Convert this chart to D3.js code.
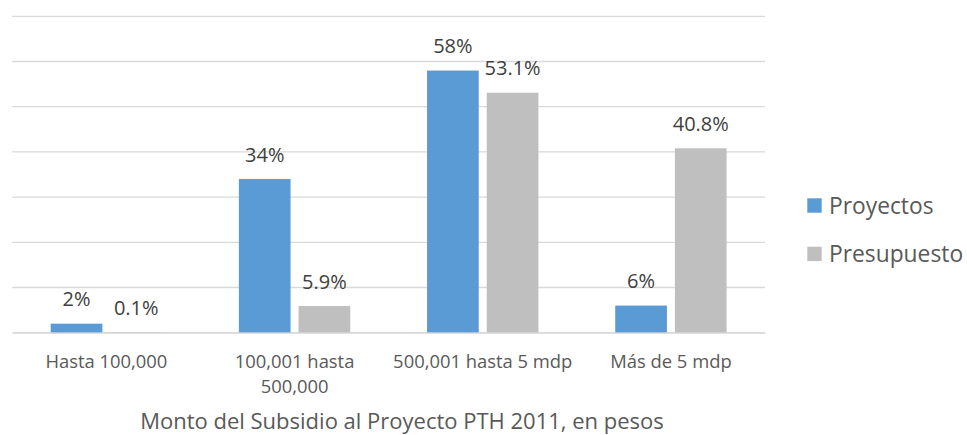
<!DOCTYPE html>
<html>
<head>
<meta charset="utf-8">
<script src="https://cdn.jsdelivr.net/npm/d3@7"></script>
<style>
  html, body { margin: 0; padding: 0; background: #fff; }
  svg { display: block; font-family: "Open Sans", "DejaVu Sans", sans-serif; }
</style>
</head>
<body>
<svg id="chart" width="967" height="435"></svg>
<script>
const categories = [["Hasta 100,000"], ["100,001 hasta", "500,000"], ["500,001 hasta 5 mdp"], ["Más de 5 mdp"]];
const seriesNames = ["Proyectos", "Presupuesto"];
const proyectos = [2, 34, 58, 6];
const presupuesto = [0.1, 5.9, 53.1, 40.8];
const proyectosLabels = ["2%", "34%", "58%", "6%"];
const presupuestoLabels = ["0.1%", "5.9%", "53.1%", "40.8%"];
const yTicks = [0, 10, 20, 30, 40, 50, 60, 70];
const titleText = "Monto del Subsidio al Proyecto PTH 2011, en pesos";

const colors = {Proyectos: "#5B9BD5", Presupuesto: "#BFBFBF"};
const svg = d3.select("#chart");

const plotLeft = 12.3, plotRight = 765, plotTop = 16.3, plotBottom = 332.7;
const catKeys = categories.map((c, i) => i);

const x0 = d3.scaleBand().domain(catKeys).range([plotLeft, plotRight]).padding(0);
const bw = x0.bandwidth();
const x1 = d3.scaleBand().domain(seriesNames).range([38.4, bw - 38.4]).paddingInner(0.134);
const y = d3.scaleLinear().domain([0, 70]).range([plotBottom, plotTop]);

// gridlines
svg.append("g")
  .selectAll("line").data(yTicks).join("line")
  .attr("x1", plotLeft).attr("x2", plotRight)
  .attr("y1", d => y(d)).attr("y2", d => y(d))
  .attr("stroke", "#D9D9D9").attr("stroke-width", 1.3);

const data = catKeys.map(i => ({
  i,
  vals: [
    {s: "Proyectos", v: proyectos[i], label: proyectosLabels[i]},
    {s: "Presupuesto", v: presupuesto[i], label: presupuestoLabels[i]}
  ]
}));

const groups = svg.append("g").selectAll("g").data(data).join("g")
  .attr("transform", d => `translate(${x0(d.i)},0)`);

groups.selectAll("rect").data(d => d.vals).join("rect")
  .attr("x", d => x1(d.s))
  .attr("width", x1.bandwidth())
  .attr("y", d => y(d.v))
  .attr("height", d => y(0) - y(d.v))
  .attr("fill", d => colors[d.s]);

groups.selectAll("text").data(d => d.vals).join("text")
  .attr("x", d => x1(d.s) + x1.bandwidth() / 2)
  .attr("y", d => y(d.v) - 17.5)
  .attr("text-anchor", "middle")
  .attr("font-size", 20)
  .attr("fill", "#404040")
  .text(d => d.label);

// x axis
const xAxis = svg.append("g")
  .attr("transform", `translate(0,${plotBottom})`)
  .call(d3.axisBottom(x0).tickSize(0).tickFormat(""));
xAxis.select(".domain").attr("stroke", "#D9D9D9").attr("stroke-width", 1.3);
xAxis.selectAll(".tick text").remove();
xAxis.selectAll(".tick").append("text")
  .attr("text-anchor", "middle")
  .attr("fill", "#595959")
  .attr("font-size", 18.4)
  .attr("font-family", "Open Sans")
  .each(function(d) {
    const t = d3.select(this);
    categories[d].forEach((line, k) => {
      t.append("tspan").attr("x", 0).attr("y", 35.5 + k * 24.5).text(line);
    });
  });

// title
svg.append("text")
  .attr("x", 402).attr("y", 429)
  .attr("text-anchor", "middle")
  .attr("font-size", 22)
  .attr("fill", "#595959")
  .text(titleText);

// legend
const legend = svg.append("g").selectAll("g").data(seriesNames).join("g")
  .attr("transform", (d, i) => `translate(807.3,${198.3 + i * 48.4})`);
legend.append("rect").attr("width", 14.4).attr("height", 14.4).attr("fill", d => colors[d]);
legend.append("text")
  .attr("x", 21.7).attr("y", 15.2)
  .attr("font-size", 22.8)
  .attr("fill", "#595959")
  .text(d => d);
</script>
</body>
</html>
